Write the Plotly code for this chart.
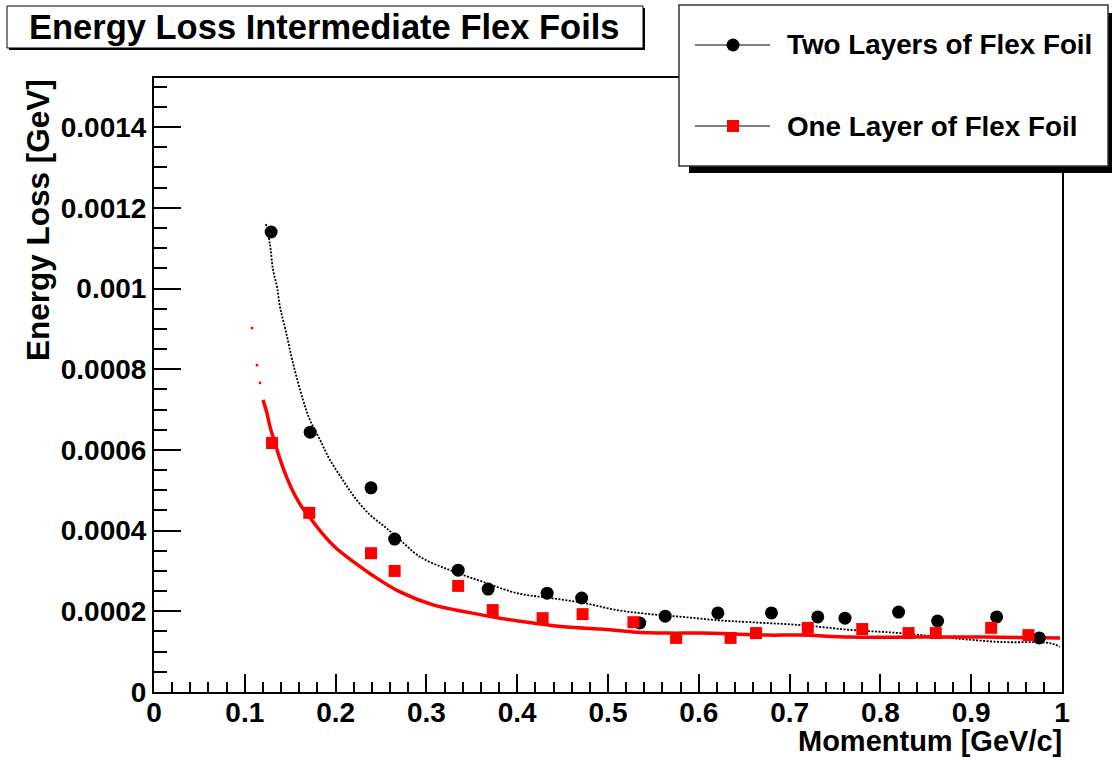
import plotly.graph_objects as go

# ---------------- data ----------------
two_x = [0.129, 0.172, 0.239, 0.265, 0.335, 0.368, 0.433, 0.471, 0.535, 0.563,
         0.621, 0.680, 0.731, 0.761, 0.820, 0.863, 0.928, 0.975]
two_y = [0.001140, 0.000644, 0.000506, 0.000379, 0.000302, 0.000255, 0.000245, 0.000233,
         0.000171, 0.000188, 0.000196, 0.000196, 0.000186, 0.000183, 0.000198, 0.000176,
         0.000186, 0.000134]

one_x = [0.130, 0.171, 0.239, 0.265, 0.335, 0.373, 0.428, 0.472, 0.528, 0.575,
         0.635, 0.663, 0.720, 0.780, 0.831, 0.861, 0.922, 0.963]
one_y = [0.000617, 0.000444, 0.000344, 0.000300, 0.000263, 0.000203, 0.000183, 0.000193,
         0.000173, 0.000134, 0.000134, 0.000146, 0.000159, 0.000156, 0.000146, 0.000146,
         0.000159, 0.000141]

# simulated energy-loss band, two layers (black dots)
sim2_x = [0.1233, 0.1278, 0.1311, 0.1355, 0.1388, 0.1454, 0.1531, 0.1641, 0.1718, 0.1828,
          0.1938, 0.2081, 0.2214, 0.2379, 0.2544, 0.2709, 0.2930, 0.3260, 0.3623, 0.3998,
          0.4361, 0.4725, 0.5099, 0.5463, 0.5826, 0.6200, 0.6564, 0.7115, 0.7665, 0.8216,
          0.8767, 0.9317, 0.9868, 0.9978]
sim2_y = [0.001160, 0.001108, 0.001046, 0.001004, 0.000954, 0.000892, 0.000815, 0.000724,
          0.000674, 0.000625, 0.000575, 0.000525, 0.000481, 0.000439, 0.000409, 0.000377,
          0.000335, 0.000302, 0.000273, 0.000245, 0.000233, 0.000221, 0.000203, 0.000193,
          0.000186, 0.000178, 0.000173, 0.000166, 0.000154, 0.000146, 0.000134, 0.000124,
          0.000121, 0.000112]

# simulated energy-loss band, one layer (red)
sim1_sparse_x = [0.1079, 0.1134, 0.1167]
sim1_sparse_y = [0.000902, 0.000810, 0.000766]
sim1_x = [0.1200, 0.1244, 0.1278, 0.1333, 0.1388, 0.1465, 0.1553, 0.1630, 0.1707, 0.1850,
          0.2004, 0.2214, 0.2401, 0.2709, 0.3073, 0.3447, 0.3811, 0.4174, 0.4548, 0.4912,
          0.5275, 0.5650, 0.6013, 0.6377, 0.6751, 0.7115, 0.7665, 0.8403, 0.9130, 0.9978]
sim1_y = [0.000724, 0.000691, 0.000657, 0.000617, 0.000577, 0.000530, 0.000487, 0.000458,
          0.000435, 0.000394, 0.000357, 0.000320, 0.000290, 0.000248, 0.000216, 0.000198,
          0.000183, 0.000171, 0.000161, 0.000156, 0.000149, 0.000146, 0.000146, 0.000144,
          0.000141, 0.000141, 0.000136, 0.000136, 0.000136, 0.000134]

title_text = "Energy Loss Intermediate Flex Foils"
legend_labels = ["Two Layers of Flex Foil", "One Layer of Flex Foil"]
x_title = "Momentum [GeV/c]"
y_title = "Energy Loss [GeV]"

# ---------------- figure ----------------
W, H = 1112, 760
L, R, T, B = 154, 50, 78, 68
PW, PH = W - L - R, H - T - B

def px(X):
    return (X - L) / PW

def py(Y):
    return (H - B - Y) / PH

FONT = "Liberation Sans, Arial, Helvetica, sans-serif"

fig = go.Figure()

fig.add_trace(go.Scatter(x=sim2_x, y=sim2_y, mode="lines",
                         line=dict(color="black", width=1.8, dash="2px,1.5px"),
                         line_shape="spline",
                         hoverinfo="skip"))
fig.add_trace(go.Scatter(x=sim1_sparse_x, y=sim1_sparse_y, mode="markers",
                         marker=dict(color="red", size=2.5, symbol="square"),
                         hoverinfo="skip"))
fig.add_trace(go.Scatter(x=sim1_x, y=sim1_y, mode="lines",
                         line=dict(color="red", width=3.5),
                         line_shape="spline",
                         hoverinfo="skip"))
fig.add_trace(go.Scatter(x=two_x, y=two_y, mode="markers",
                         marker=dict(color="black", size=13, symbol="circle"),
                         name=legend_labels[0]))
fig.add_trace(go.Scatter(x=one_x, y=one_y, mode="markers",
                         marker=dict(color="red", size=12, symbol="square"),
                         name=legend_labels[1]))

axis_common = dict(
    showline=True, linewidth=2, linecolor="black", mirror=True,
    showgrid=False, zeroline=False,
    ticks="inside", tickcolor="black", tickwidth=1.5,
    tickfont=dict(family=FONT, size=28, color="black", weight="bold"),
)

fig.update_xaxes(range=[0, 1], tickmode="linear", tick0=0, dtick=0.1, tickformat="~g",
                 ticklen=18, ticklabelstandoff=-6,
                 minor=dict(dtick=0.02, ticks="inside", ticklen=10, tickwidth=1.5,
                            tickcolor="black", showgrid=False),
                 **axis_common)
fig.update_yaxes(range=[0, 0.0015217], tickmode="linear", tick0=0, dtick=0.0002,
                 tickformat="~g", ticklen=27,
                 minor=dict(dtick=0.00005, ticks="inside", ticklen=13, tickwidth=1.5,
                            tickcolor="black", showgrid=False),
                 **axis_common)

shapes = []
# title box with slight shadow
shapes.append(dict(type="rect", xref="paper", yref="paper",
                   x0=px(9), x1=px(645), y0=py(50), y1=py(8),
                   fillcolor="black", line=dict(width=0), layer="above"))
shapes.append(dict(type="rect", xref="paper", yref="paper",
                   x0=px(7), x1=px(643), y0=py(48), y1=py(6),
                   fillcolor="white", line=dict(color="black", width=1), layer="above"))
# legend shadow + box
shapes.append(dict(type="rect", xref="paper", yref="paper",
                   x0=px(689), x1=px(1113), y0=py(173), y1=py(13),
                   fillcolor="black", line=dict(width=0), layer="above"))
shapes.append(dict(type="rect", xref="paper", yref="paper",
                   x0=px(679), x1=px(1108), y0=py(166), y1=py(5),
                   fillcolor="white", line=dict(color="#333333", width=1.5), layer="above"))
# legend samples
for yy in (45, 126):
    shapes.append(dict(type="line", xref="paper", yref="paper",
                       x0=px(695), x1=px(770), y0=py(yy), y1=py(yy),
                       line=dict(color="black", width=1.2), layer="above"))
shapes.append(dict(type="circle", xref="paper", yref="paper",
                   x0=px(726.5), x1=px(739.5), y0=py(51.5), y1=py(38.5),
                   fillcolor="black", line=dict(width=0), layer="above"))
shapes.append(dict(type="rect", xref="paper", yref="paper",
                   x0=px(727), x1=px(739), y0=py(132), y1=py(120),
                   fillcolor="red", line=dict(width=0), layer="above"))

annotations = [
    dict(text=title_text, xref="paper", yref="paper", x=px(324), y=py(27),
         xanchor="center", yanchor="middle", showarrow=False,
         font=dict(family=FONT, size=34.5, color="black", weight="bold")),
    dict(text=legend_labels[0], xref="paper", yref="paper", x=px(785), y=py(45),
         xanchor="left", yanchor="middle", showarrow=False,
         font=dict(family=FONT, size=27.8, color="black", weight="bold")),
    dict(text=legend_labels[1], xref="paper", yref="paper", x=px(785), y=py(126),
         xanchor="left", yanchor="middle", showarrow=False,
         font=dict(family=FONT, size=27.8, color="black", weight="bold")),
    dict(text=x_title, xref="paper", yref="paper", x=px(1064), y=py(741),
         xanchor="right", yanchor="middle", showarrow=False,
         font=dict(family=FONT, size=29, color="black", weight="bold")),
    dict(text=y_title, xref="paper", yref="paper", x=px(38), y=py(77),
         xanchor="center", yanchor="top", showarrow=False, textangle=-90,
         font=dict(family=FONT, size=31.5, color="black", weight="bold")),
]

fig.update_layout(width=W, height=H, margin=dict(l=L, r=R, t=T, b=B, pad=0),
                  paper_bgcolor="white", plot_bgcolor="white", showlegend=False,
                  shapes=shapes, annotations=annotations,
                  font=dict(family=FONT, color="black"))

fig.write_html("out.html", config={"displayModeBar": False},
               post_script="document.body.style.margin='0';")
